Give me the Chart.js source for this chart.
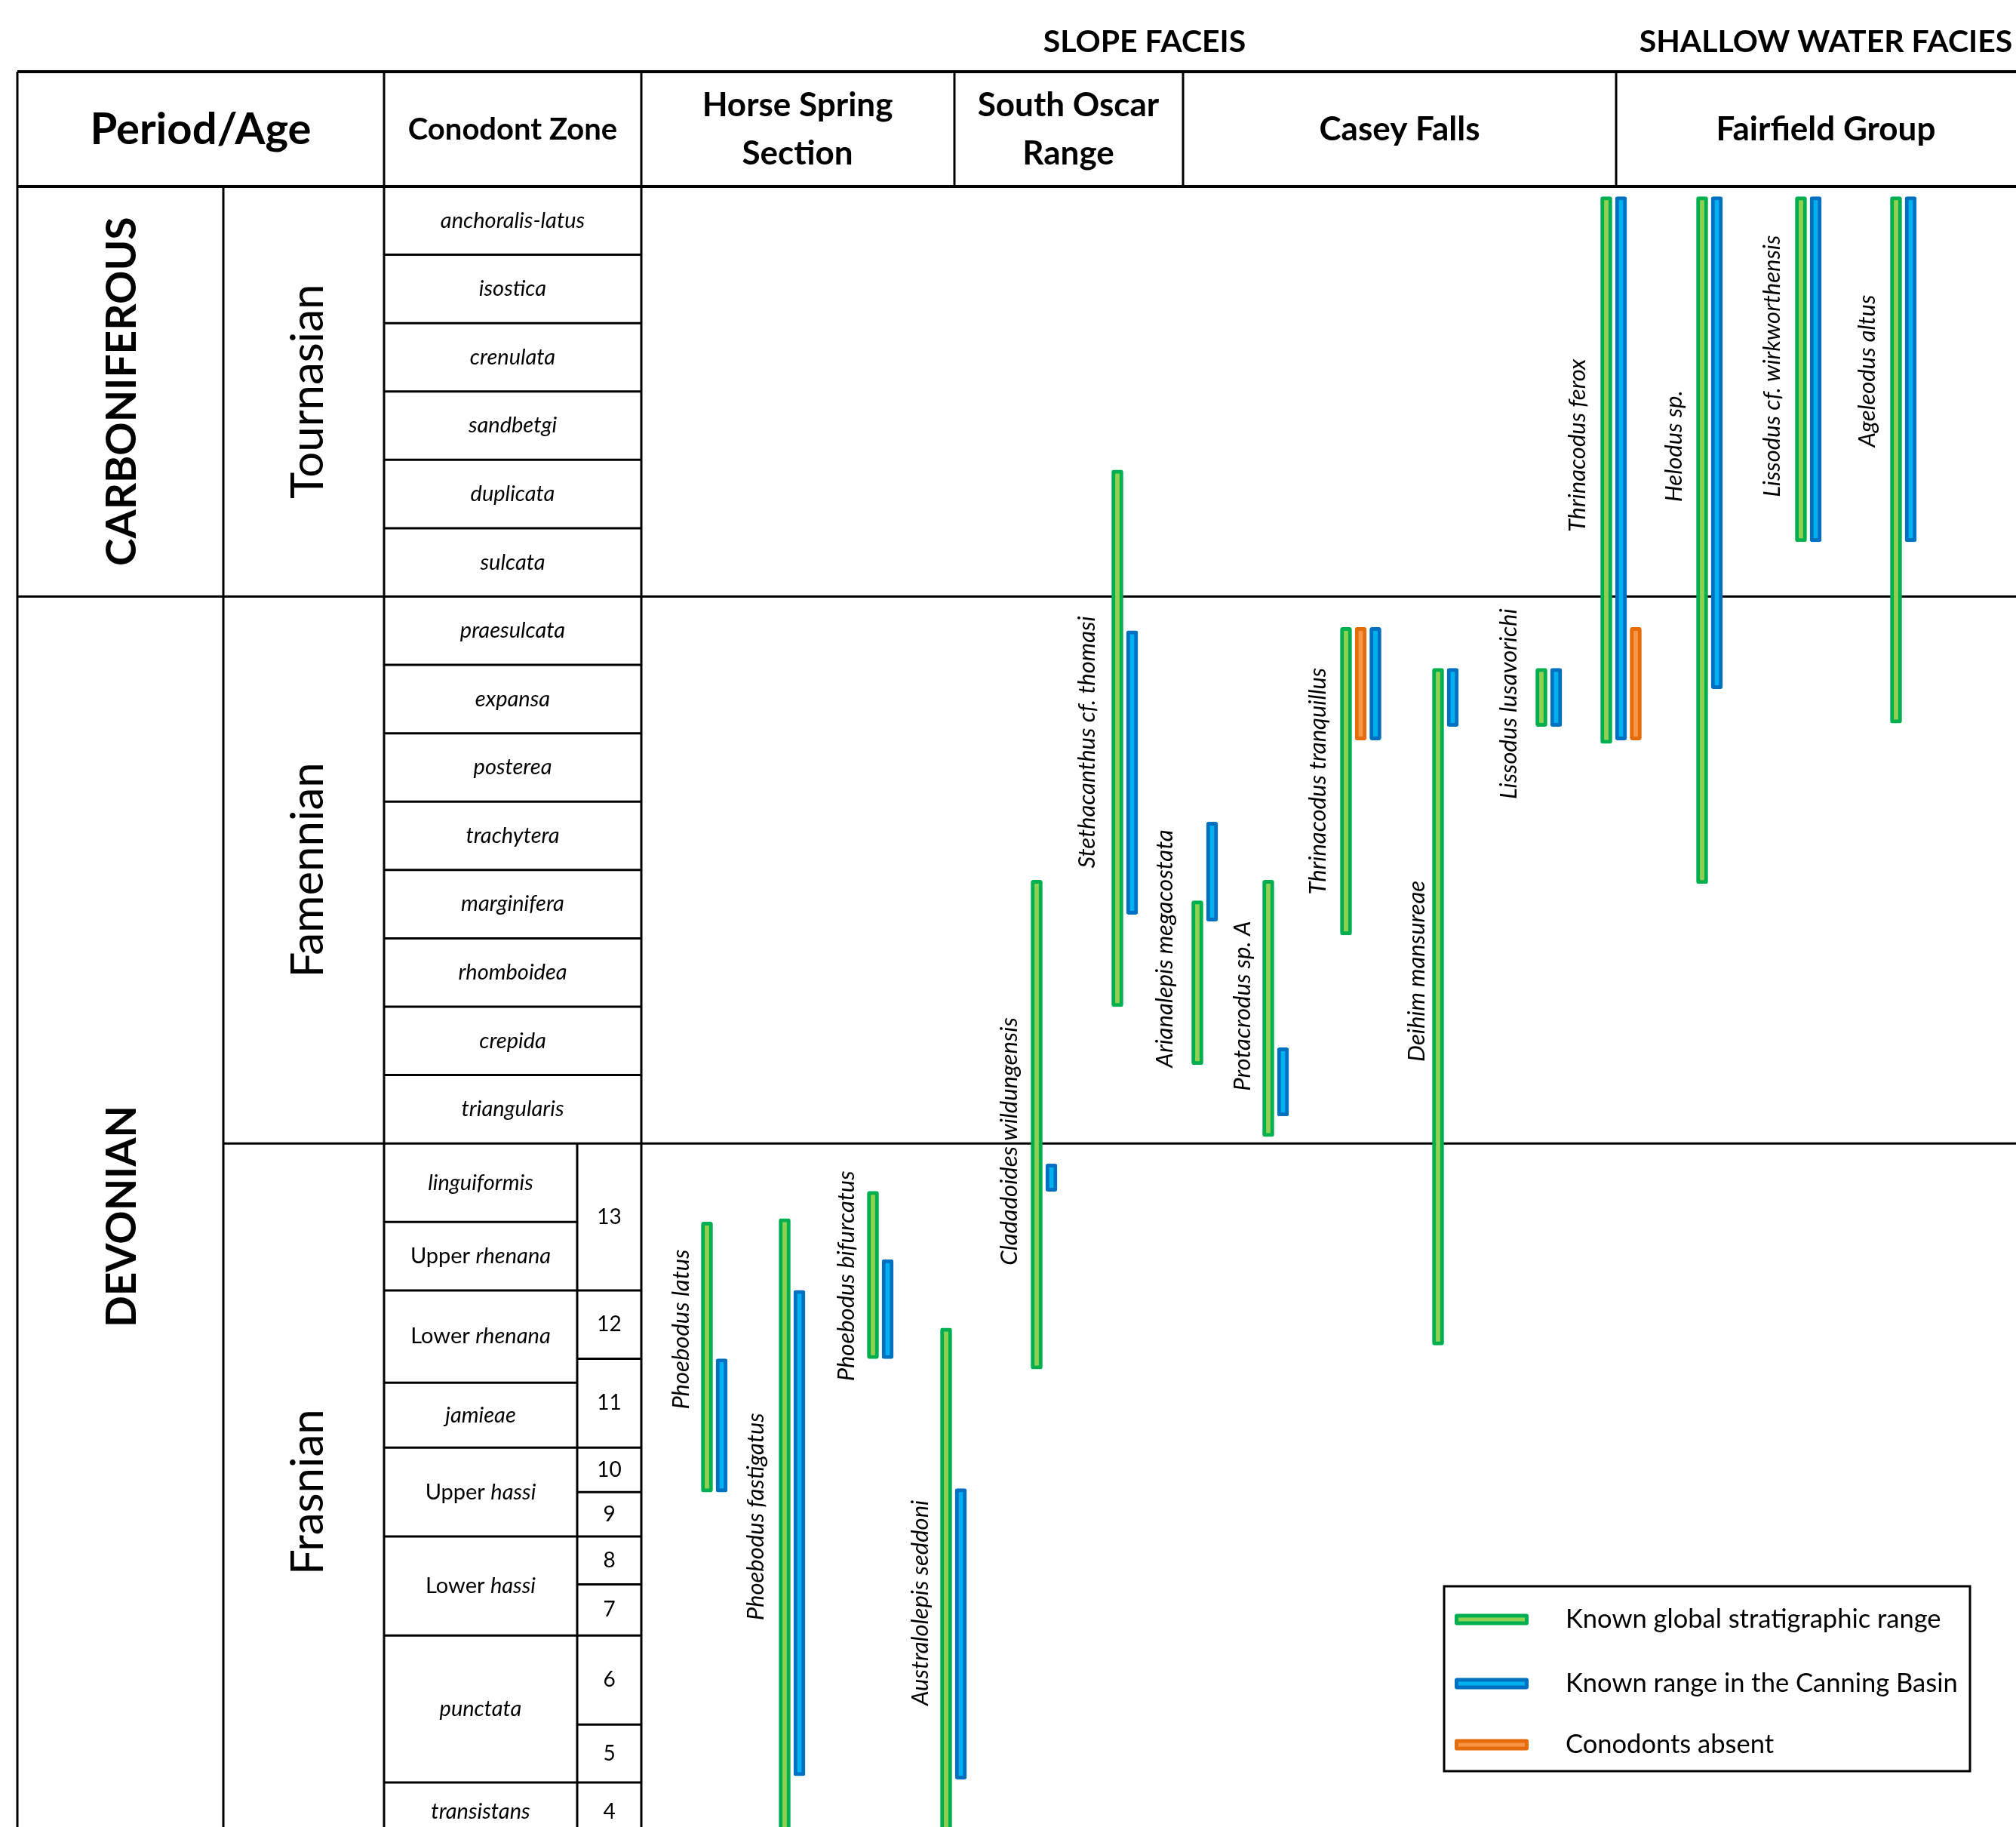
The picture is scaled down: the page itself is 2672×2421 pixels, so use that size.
<!DOCTYPE html>
<html>
<head>
<meta charset="utf-8">
<script src="https://cdn.jsdelivr.net/npm/chart.js@4.4.1/dist/chart.umd.min.js"></script>
<style>
  html, body { margin: 0; padding: 0; background: #fff; }
  canvas { display: block; }
</style>
</head>
<body>
<canvas id="chart" width="2672" height="2421"></canvas>
<script>
// stratigraphic position is measured in biozones from the top of anchoralis-latus (0) downwards
const carbZones = ['anchoralis-latus', 'isostica', 'crenulata', 'sandbetgi', 'duplicata', 'sulcata'];
const famZones = ['praesulcata', 'expansa', 'posterea', 'trachytera', 'marginifera', 'rhomboidea', 'crepida', 'triangularis'];
// [upright part, italic part]
const frasZones = [['', 'linguiformis'], ['Upper ', 'rhenana'], ['Lower ', 'rhenana'], ['', 'jamieae'],
  ['Upper ', 'hassi'], ['Lower ', 'hassi'], ['', 'punctata'], ['', 'transistans']];
const frasZoneTops = [14, 15.15, 16.15, 17.5, 18.45, 19.75, 21.2, 23.35];
const frasNumbers = ['13', '12', '11', '10', '9', '8', '7', '6', '5', '4'];
const frasNumberTops = [14, 16.15, 17.15, 18.45, 19.1, 19.75, 20.45, 21.2, 22.5, 23.35];
const scaleBottom = 24.2;

const taxa = ['Phoebodus latus', 'Phoebodus fastigatus', 'Phoebodus bifurcatus', 'Australolepis seddoni',
  'Cladadoides wildungensis', 'Stethacanthus cf. thomasi', 'Arianalepis megacostata', 'Protacrodus sp. A',
  'Thrinacodus tranquillus', 'Deihim mansureae', 'Lissodus lusavorichi', 'Thrinacodus ferox',
  'Helodus sp.', 'Lissodus cf. wirkworthensis', 'Ageleodus altus'];

// known global stratigraphic range [top, bottom]
const globalRange = [[15.15, 19.1], [15.1, 24.6], [14.7, 17.15], [16.7, 24.6], [10.15, 17.3], [4.15, 12.0],
  [10.45, 12.85], [10.15, 13.9], [6.45, 10.95], [7.05, 16.95], [7.05, 7.9], [0.15, 8.15],
  [0.15, 10.2], [0.15, 5.2], [0.15, 7.85]];
// known range in the Canning Basin
const canningRange = [[17.15, 19.1], [16.15, 23.25], [15.7, 17.15], [19.05, 23.3], [14.3, 14.7], [6.5, 10.65],
  [9.3, 10.75], [12.6, 13.6], [6.45, 8.1], [7.05, 7.9], [7.05, 7.9], [0.15, 8.1],
  [0.15, 7.35], [0.15, 5.2], [0.15, 5.2]];
// conodonts absent
const absentRange = [null, null, null, null, null, null, null, null, [6.45, 8.1], null, null, [6.45, 8.1], null, null, null];

// layout: column of each taxon on the x scale, bar order, label place
const taxonX = [937, 1040, 1157, 1254, 1374, 1481, 1587, 1681, 1784, 1906, 2043, 2129, 2256, 2387, 2513];
const canningSlot = [1, 1, 1, 1, 1, 1, 1, 1, 2, 1, 1, 1, 1, 1, 1];
const absentSlot = [0, 0, 0, 0, 0, 0, 0, 0, 1, 0, 0, 2, 0, 0, 0];
const slotStep = 19.5;
const labelX = [903, 1002, 1122, 1220, 1338, 1441, 1544, 1647, 1747, 1878, 2000, 2091, 2219, 2349, 2475];
const labelY = [16.72, 19.46, 15.94, 20.72, 13.97, 8.13, 11.15, 11.99, 8.7, 11.48, 7.57, 3.79, 3.8, 2.63, 2.7];

const GREEN = { fill: '#92d050', line: '#00b050' };
const BLUE = { fill: '#00b0f0', line: '#0070c0' };
const ORANGE = { fill: '#f79646', line: '#e46c0a' };
const FONT = 'Lato, "Open Sans", sans-serif';

function toBars(ranges, slots) {
  const out = [];
  ranges.forEach((r, i) => {
    if (r) out.push({ x: taxonX[i] + (slots ? slots[i] : 0) * slotStep, y: r });
  });
  return out;
}

function barSet(label, data, col) {
  return {
    label: label,
    data: data,
    backgroundColor: col.fill,
    borderColor: col.line,
    borderWidth: 5,
    borderRadius: 3,
    borderSkipped: false,
    grouped: false,
    maxBarThickness: 15,
    barPercentage: 1,
    categoryPercentage: 1
  };
}

function vText(ctx, str, x, y, font) {
  ctx.save();
  ctx.translate(x, y);
  ctx.rotate(-Math.PI / 2);
  ctx.font = font;
  ctx.textAlign = 'center';
  ctx.textBaseline = 'middle';
  ctx.fillText(str, 0, 0);
  ctx.restore();
}

// upright + italic pieces, centred together
function mixedText(ctx, parts, x, y, size) {
  const fUp = size + 'px ' + FONT;
  const fIt = 'italic ' + size + 'px ' + FONT;
  ctx.font = fUp;
  const w1 = ctx.measureText(parts[0]).width;
  ctx.font = fIt;
  const w2 = ctx.measureText(parts[1]).width;
  let left = x - (w1 + w2) / 2;
  ctx.textAlign = 'left';
  ctx.textBaseline = 'middle';
  ctx.font = fUp;
  ctx.fillText(parts[0], left, y);
  ctx.font = fIt;
  ctx.fillText(parts[1], left + w1, y);
}

function line(ctx, x1, y1, x2, y2, w) {
  ctx.lineWidth = w;
  ctx.beginPath();
  ctx.moveTo(x1, y1);
  ctx.lineTo(x2, y2);
  ctx.stroke();
}

const tablePlugin = {
  id: 'table',
  beforeDatasetsDraw(chart) {
    const ctx = chart.ctx;
    const xs = chart.scales.x, ys = chart.scales.y;
    const Y = v => ys.getPixelForValue(v);
    const right = chart.width;
    const top = 95, head = Y(0), bottom = chart.height;
    const cLeft = 23, cAge = 296, cZone = 509, cNum = 765, cData = 850;

    ctx.save();
    ctx.fillStyle = '#000';
    ctx.strokeStyle = '#000';

    // frame
    line(ctx, cLeft, top, right, top, 4);
    line(ctx, cLeft, head, right, head, 4);
    line(ctx, cLeft, top, cLeft, bottom, 3);
    line(ctx, cZone, top, cZone, bottom, 3);
    line(ctx, cData, top, cData, bottom, 3);
    line(ctx, cAge, head, cAge, bottom, 3);
    [1265, 1568, 2142].forEach(x => line(ctx, x, top, x, head, 3));
    line(ctx, cLeft, Y(6), right, Y(6), 3);
    line(ctx, cAge, Y(14), right, Y(14), 3);
    line(ctx, cNum, Y(14), cNum, bottom, 3);

    // Carboniferous + Famennian zones
    const zones = carbZones.concat(famZones);
    ctx.textBaseline = 'middle';
    zones.forEach((z, i) => {
      if (i > 0 && i !== 6) line(ctx, cZone, Y(i), cData, Y(i), 3);
      ctx.font = 'italic 29px ' + FONT;
      ctx.textAlign = 'center';
      ctx.fillText(z, (cZone + cData) / 2, Y(i + 0.5));
    });

    // Frasnian zones and numbered intervals
    frasZones.forEach((z, i) => {
      const t = frasZoneTops[i];
      const b = i + 1 < frasZoneTops.length ? frasZoneTops[i + 1] : scaleBottom;
      if (i > 0) line(ctx, cZone, Y(t), cNum, Y(t), 3);
      mixedText(ctx, z, (cZone + cNum) / 2, Y((t + b) / 2), 29);
    });
    ctx.font = '28px ' + FONT;
    ctx.textAlign = 'center';
    frasNumbers.forEach((n, i) => {
      const t = frasNumberTops[i];
      const b = i + 1 < frasNumberTops.length ? frasNumberTops[i + 1] : scaleBottom;
      if (i > 0) line(ctx, cNum, Y(t), cData, Y(t), 3);
      ctx.fillText(n, (cNum + cData) / 2, Y((t + b) / 2));
    });

    // periods and ages
    vText(ctx, 'CARBONIFEROUS', 162, Y(3), 'bold 55px ' + FONT);
    vText(ctx, 'DEVONIAN', 162, Y(15.07), 'bold 55px ' + FONT);
    vText(ctx, 'Tournasian', 409, Y(3), '60px ' + FONT);
    vText(ctx, 'Famennian', 409, Y(10), '60px ' + FONT);
    vText(ctx, 'Frasnian', 409, Y(19.1), '60px ' + FONT);

    // headers
    ctx.textAlign = 'center';
    ctx.textBaseline = 'middle';
    ctx.font = 'bold 41px ' + FONT;
    ctx.fillText('SLOPE FACEIS', 1517, 56);
    ctx.fillText('SHALLOW WATER FACIES', 2420, 56);
    ctx.font = 'bold 58px ' + FONT;
    ctx.fillText('Period/Age', (cLeft + cZone) / 2, 172);
    ctx.font = 'bold 40px ' + FONT;
    ctx.fillText('Conodont Zone', (cZone + cData) / 2, 172);
    ctx.font = 'bold 44px ' + FONT;
    ctx.fillText('Horse Spring', 1057, 140);
    ctx.fillText('Section', 1057, 204);
    ctx.fillText('South Oscar', 1416, 140);
    ctx.fillText('Range', 1416, 204);
    ctx.fillText('Casey Falls', 1855, 172);
    ctx.fillText('Fairfield Group', 2420, 172);
    ctx.restore();
  },
  afterDatasetsDraw(chart) {
    const ctx = chart.ctx;
    const xs = chart.scales.x, ys = chart.scales.y;
    ctx.save();
    ctx.fillStyle = '#000';
    // taxon names
    taxa.forEach((t, i) => {
      vText(ctx, t, xs.getPixelForValue(labelX[i]), ys.getPixelForValue(labelY[i]), 'italic 31px ' + FONT);
    });

    // legend box
    const items = [['Known global stratigraphic range', GREEN], ['Known range in the Canning Basin', BLUE], ['Conodonts absent', ORANGE]];
    ctx.fillStyle = '#fff';
    ctx.fillRect(1914, 2102, 697, 245);
    ctx.strokeStyle = '#000';
    ctx.lineWidth = 3;
    ctx.strokeRect(1914, 2102, 697, 245);
    const rows = [2146, 2231, 2312];
    items.forEach((it, i) => {
      const yy = rows[i];
      ctx.fillStyle = it[1].line;
      ctx.beginPath();
      ctx.roundRect(1928, yy - 7.5, 98, 15, 3);
      ctx.fill();
      ctx.fillStyle = it[1].fill;
      ctx.fillRect(1933, yy - 2.5, 88, 5);
      ctx.fillStyle = '#000';
      ctx.font = '34.5px ' + FONT;
      ctx.textAlign = 'left';
      ctx.textBaseline = 'middle';
      ctx.fillText(it[0], 2075, yy);
    });
    ctx.restore();
  }
};

new Chart(document.getElementById('chart').getContext('2d'), {
  type: 'bar',
  data: {
    datasets: [
      barSet('Known global stratigraphic range', toBars(globalRange), GREEN),
      barSet('Known range in the Canning Basin', toBars(canningRange, canningSlot), BLUE),
      barSet('Conodonts absent', toBars(absentRange, absentSlot), ORANGE)
    ]
  },
  options: {
    responsive: false,
    animation: false,
    layout: { padding: { top: 247, left: 0, right: 0, bottom: 0 } },
    scales: {
      x: { type: 'linear', min: 0, max: 2672, display: false, offset: false },
      y: { type: 'linear', reverse: true, min: 0, max: 24, display: false }
    },
    plugins: {
      legend: { display: false },
      tooltip: { enabled: false }
    }
  },
  plugins: [tablePlugin]
});
</script>
</body>
</html>
